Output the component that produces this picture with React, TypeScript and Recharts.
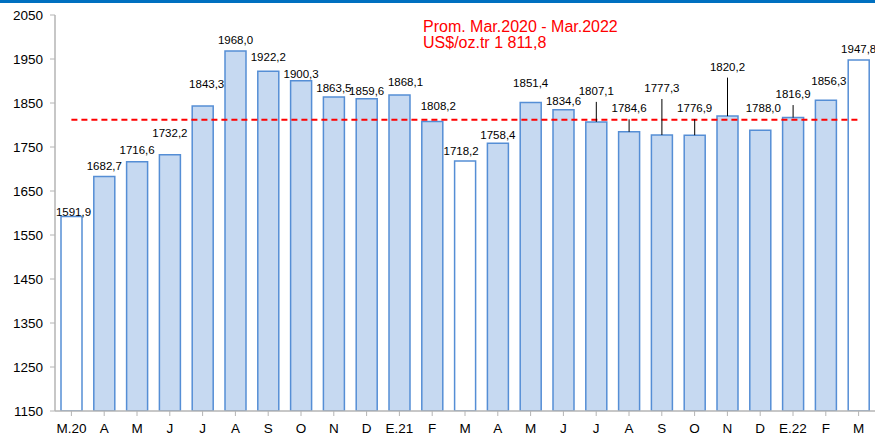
import { Bar, BarChart, Cell, LabelList, ReferenceLine, XAxis, YAxis } from 'recharts';

const months = ['M.20', 'A', 'M', 'J', 'J', 'A', 'S', 'O', 'N', 'D', 'E.21', 'F', 'M', 'A', 'M', 'J', 'J', 'A', 'S', 'O', 'N', 'D', 'E.22', 'F', 'M'];
const prices = [1591.9, 1682.7, 1716.6, 1732.2, 1843.3, 1968.0, 1922.2, 1900.3, 1863.5, 1859.6, 1868.1, 1808.2, 1718.2, 1758.4, 1851.4, 1834.6, 1807.1, 1784.6, 1777.3, 1776.9, 1820.2, 1788.0, 1816.9, 1856.3, 1947.8];
// March bars are drawn hollow
const hollowIdx = [0, 12, 24];
const average = 1811.8;
const yTicks = [1150, 1250, 1350, 1450, 1550, 1650, 1750, 1850, 1950, 2050];

// label placement (px above bar top to label centre), and which ones get a leader line
const labelLift = [5, 11, 11.5, 22, 22, 11, 14, 7, 9, 7.5, 13.5, 15, 10, 8, 19.5, 9, 31, 23.5, 47, 27, 49.5, 22, 23.5, 19.5, 11];
const labelShift: Record<number, number> = { 0: 2, 4: 4, 10: 6, 11: 6, 12: -4, 21: 3, 23: 3 };
const leaderIdx = [16, 17, 18, 19, 20, 22];

const data = prices.map((price, i) => ({ idx: i, price }));

const FONT = 'Arial, "Liberation Sans", sans-serif';

const fmt = (v: number) => v.toFixed(1).replace('.', ',');

const PriceLabel = (props: any) => {
  const { x, y, width, value } = props;
  let index = props.index;
  if (index === undefined) index = prices.indexOf(value);
  const cx = x + width / 2;
  const center = y - (labelLift[index] ?? 8);
  return (
    <g>
      {leaderIdx.includes(index) && (
        <line x1={cx} x2={cx} y1={y} y2={center + 11} stroke="#000" strokeWidth={1} />
      )}
      <text
        x={cx + (labelShift[index] ?? 0)}
        y={center + 4}
        textAnchor="middle"
        fontSize={11.5}
        fontFamily={FONT}
        fill="#000"
      >
        {fmt(value)}
      </text>
    </g>
  );
};

export default function App() {
  return (
    <div style={{ position: 'absolute', left: 0, top: 0, width: 875, height: 435, background: '#fff', fontFamily: FONT }}>
      <BarChart width={875} height={435} data={data} margin={{ top: 15, right: 0, left: 0, bottom: 0 }}>
        <XAxis
          dataKey="idx"
          type="category"
          interval={0}
          height={24}
          tickFormatter={(v: number) => months[v]}
          tick={{ fontSize: 13.5, fontFamily: FONT, fill: '#000' }}
          tickSize={5}
          tickMargin={7}
          axisLine={{ stroke: '#b4b4b4', strokeWidth: 1.5 }}
          tickLine={{ stroke: '#b4b4b4' }}
        />
        <YAxis
          domain={[1150, 2050]}
          ticks={yTicks}
          interval={0}
          width={55}
          allowDataOverflow
          tick={{ fontSize: 13.5, fontFamily: FONT, fill: '#000' }}
          tickSize={5}
          tickMargin={7}
          axisLine={{ stroke: '#b4b4b4', strokeWidth: 1.5 }}
          tickLine={{ stroke: '#b4b4b4' }}
        />
        <Bar dataKey="price" barSize={21} fill="#C6D9F1" stroke="#558ED5" strokeWidth={1.5} isAnimationActive={false}>
          {data.map((d) => (
            <Cell key={`cell-${d.idx}`} fill={hollowIdx.includes(d.idx) ? '#ffffff' : '#C6D9F1'} />
          ))}
          <LabelList dataKey="price" content={(p: any) => <PriceLabel {...p} />} />
        </Bar>
        <ReferenceLine
          segment={[{ x: 0, y: average }, { x: prices.length - 1, y: average }]}
          stroke="#ff0000"
          strokeWidth={2}
          strokeDasharray="6 4"
        />
      </BarChart>
      <div style={{ position: 'absolute', left: 0, top: 0, width: 875, height: 3, background: '#0070C0' }} />
      <svg style={{ position: 'absolute', left: 0, top: 0 }} width={875} height={60}>
        <text x={423} y={31.5} fontSize={16} fontFamily={FONT} fill="#ff0000">Prom. Mar.2020 - Mar.2022</text>
        <text x={423} y={48} fontSize={16} fontFamily={FONT} fill="#ff0000">US$/oz.tr 1 811,8</text>
      </svg>
    </div>
  );
}
